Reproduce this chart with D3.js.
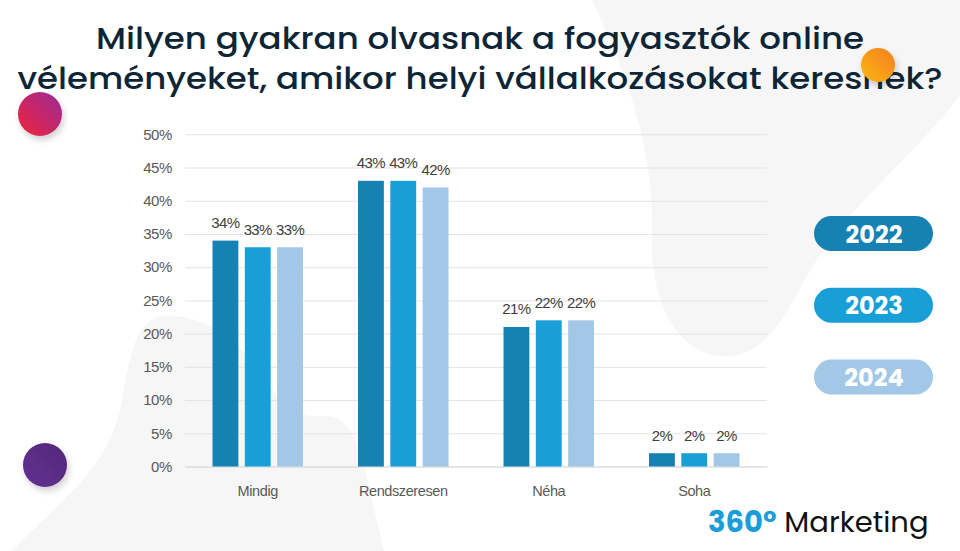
<!DOCTYPE html>
<html>
<head>
<meta charset="utf-8">
<script src="https://cdn.jsdelivr.net/npm/d3@7"></script>
<style>
  body { margin: 0; background: #fff; }
  svg { display: block; }
</style>
</head>
<body>
<div id="chart"></div>
<script>
// data
var categories = ["Mindig", "Rendszeresen", "Néha", "Soha"];
var years = ["2022", "2023", "2024"];
var values2022 = [34, 43, 21, 2];
var values2023 = [33, 43, 22, 2];
var values2024 = [33, 42, 22, 2];
var yTicks = [0, 5, 10, 15, 20, 25, 30, 35, 40, 45, 50];
var titleLines = [
  "Milyen gyakran olvasnak a fogyasztók online",
  "véleményeket, amikor helyi vállalkozásokat keresnek?"
];

var colors = { "2022": "#1682b3", "2023": "#199fd7", "2024": "#a3c8e7" };
var seriesByYear = { "2022": values2022, "2023": values2023, "2024": values2024 };

var svgWidth = 960;
var svgHeight = 551;

var svg = d3.select("#chart")
  .append("svg")
  .attr("width", svgWidth)
  .attr("height", svgHeight);

var defs = svg.append("defs");

var shadow = defs.append("filter").attr("id", "shadow")
  .attr("x", "-50%").attr("y", "-50%").attr("width", "200%").attr("height", "200%");
shadow.append("feDropShadow")
  .attr("dx", 2).attr("dy", 4).attr("stdDeviation", 3)
  .attr("flood-color", "#000").attr("flood-opacity", 0.18);

function gradient(id, stops, x1, y1, x2, y2) {
  var g = defs.append("linearGradient").attr("id", id)
    .attr("x1", x1).attr("y1", y1).attr("x2", x2).attr("y2", y2);
  stops.forEach(function(s, i) {
    g.append("stop").attr("offset", i / (stops.length - 1)).attr("stop-color", s);
  });
}
gradient("gRed", ["#f0263a", "#9a2a98"], "0%", "100%", "100%", "0%");
gradient("gOrange", ["#fbb814", "#f47d20"], "0%", "100%", "100%", "0%");
gradient("gPurple", ["#632f92", "#532a78"], "0%", "100%", "100%", "0%");

// background blobs
var bg = svg.append("g").attr("fill", "#f6f6f6");
bg.append("path")
  .attr("d", "M592,0 C620,60 655,140 652,235 C650,320 690,360 730,356 C775,352 790,300 820,255 C860,195 920,150 960,95 L960,0 Z");
bg.append("path")
  .attr("d", "M12,551 C60,500 110,470 122,400 C132,340 140,318 165,316 C205,314 240,340 265,380 C285,410 300,418 325,416 C350,414 362,450 372,500 L384,551 Z");

// chart area
var margin = { left: 185, right: 193, top: 134.3, bottom: 84.5 };
var width = svgWidth - margin.left - margin.right;
var height = svgHeight - margin.top - margin.bottom;

var chartGroup = svg.append("g")
  .attr("transform", `translate(${margin.left}, ${margin.top})`);

var x0 = d3.scaleBand()
  .domain(categories)
  .range([0, width]);

var groupWidth = 90.5;
var x1 = d3.scaleBand()
  .domain(years)
  .range([(x0.bandwidth() - groupWidth) / 2, (x0.bandwidth() + groupWidth) / 2])
  .paddingInner(0.2);

var yScale = d3.scaleLinear()
  .domain([0, 50])
  .range([height, 0]);

// gridlines
var leftAxis = d3.axisLeft(yScale)
  .tickValues(yTicks)
  .tickSize(-width)
  .tickPadding(13)
  .tickFormat(d => d + "%");

var yAxisG = chartGroup.append("g").call(leftAxis);
yAxisG.select(".domain").remove();
yAxisG.selectAll(".tick line").attr("stroke", "#e3e3e3").attr("stroke-width", 1);
yAxisG.selectAll(".tick text")
  .attr("fill", "#595959")
  .style("font-family", "'Liberation Sans', Arial, sans-serif")
  .style("font-size", "15px")
  .style("letter-spacing", "-0.4px");

var bottomAxis = d3.axisBottom(x0).tickSize(0).tickPadding(19);
var xAxisG = chartGroup.append("g")
  .attr("transform", `translate(0, ${height})`)
  .call(bottomAxis);
xAxisG.select(".domain").attr("stroke", "#d9d9d9");
xAxisG.selectAll(".tick text")
  .attr("fill", "#595959")
  .style("font-family", "'Liberation Sans', Arial, sans-serif")
  .style("font-size", "14.5px")
  .style("letter-spacing", "-0.4px");

// bars
var rows = [];
categories.forEach(function(c, i) {
  years.forEach(function(yr) {
    rows.push({ category: c, year: yr, value: seriesByYear[yr][i] });
  });
});

chartGroup.selectAll("rect.bar")
  .data(rows)
  .enter()
  .append("rect")
  .attr("class", "bar")
  .attr("x", d => x0(d.category) + x1(d.year))
  .attr("y", d => yScale(d.value))
  .attr("width", x1.bandwidth())
  .attr("height", d => height - yScale(d.value))
  .attr("fill", d => colors[d.year]);

chartGroup.selectAll("text.val")
  .data(rows)
  .enter()
  .append("text")
  .attr("class", "val")
  .attr("x", d => x0(d.category) + x1(d.year) + x1.bandwidth() / 2)
  .attr("y", d => yScale(d.value) - 12.5)
  .attr("text-anchor", "middle")
  .attr("fill", "#404040")
  .style("font-family", "'Liberation Sans', Arial, sans-serif")
  .style("font-size", "15px")
  .style("letter-spacing", "-0.6px")
  .text(d => d.value + "%");

// title
var titleBase = [49, 89];
var titleWidth = [768, 925];
svg.selectAll("text.title")
  .data(titleLines)
  .enter()
  .append("text")
  .attr("class", "title")
  .attr("x", 480)
  .attr("y", (d, i) => titleBase[i])
  .attr("text-anchor", "middle")
  .attr("fill", "#0e2536")
  .attr("textLength", (d, i) => titleWidth[i])
  .attr("lengthAdjust", "spacingAndGlyphs")
  .style("font-family", "Poppins, Inter, 'Open Sans', sans-serif")
  .style("font-weight", 500)
  .style("font-size", "31px")
  .text(d => d);

// decorative dots
var dots = [
  { cx: 878, cy: 65, r: 17, fill: "url(#gOrange)" },
  { cx: 40, cy: 114, r: 22, fill: "url(#gRed)" },
  { cx: 45, cy: 465, r: 22, fill: "url(#gPurple)" }
];
svg.selectAll("circle.dot")
  .data(dots)
  .enter()
  .append("circle")
  .attr("class", "dot")
  .attr("cx", d => d.cx)
  .attr("cy", d => d.cy)
  .attr("r", d => d.r)
  .attr("fill", d => d.fill)
  .attr("filter", "url(#shadow)");

// legend pills
var legendY = d3.scalePoint().domain(years).range([233.5, 377]);
var legend = svg.selectAll("g.pill")
  .data(years)
  .enter()
  .append("g")
  .attr("class", "pill")
  .attr("transform", d => `translate(814, ${legendY(d) - 17.5})`);

legend.append("rect")
  .attr("width", 119)
  .attr("height", 35)
  .attr("rx", 17.5)
  .attr("fill", d => colors[d]);

legend.append("text")
  .attr("x", 60)
  .attr("y", 26.5)
  .attr("text-anchor", "middle")
  .attr("fill", "#fff")
  .style("font-family", "Poppins, Inter, 'Open Sans', sans-serif")
  .style("font-weight", 700)
  .style("font-size", "24px")
  .text(d => d);

// brand
var brand = svg.append("text")
  .attr("x", 708)
  .attr("y", 532)
  .style("font-family", "Poppins, Inter, 'Open Sans', sans-serif")
  .style("font-size", "29px");
brand.append("tspan")
  .attr("fill", "#1a9dd9")
  .style("font-weight", 700)
  .text("360°");
brand.append("tspan")
  .attr("fill", "#111")
  .attr("dx", 8)
  .style("font-weight", 400)
  .text("Marketing");
</script>
</body>
</html>
